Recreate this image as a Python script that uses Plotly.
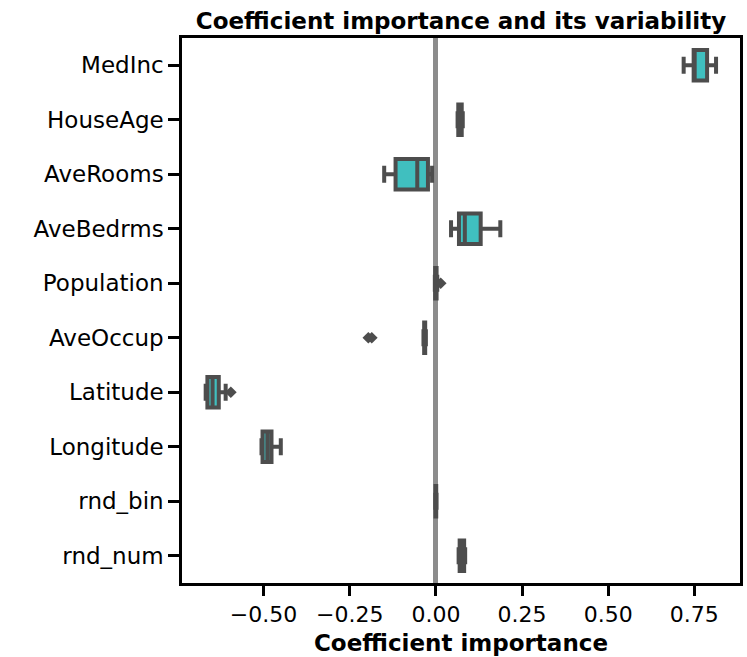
import plotly.graph_objects as go

features = ["MedInc", "HouseAge", "AveRooms", "AveBedrms", "Population",
            "AveOccup", "Latitude", "Longitude", "rnd_bin", "rnd_num"]
lower_fence = [0.719, 0.063, -0.150, 0.044, -0.003, -0.036, -0.668, -0.506, -0.002, 0.066]
q1 =          [0.748, 0.065, -0.117, 0.067, -0.002, -0.034, -0.663, -0.503, -0.001, 0.069]
median =      [0.751, 0.070, -0.054, 0.084, 0.000, -0.033, -0.648, -0.489, 0.000, 0.076]
q3 =          [0.787, 0.075, -0.023, 0.130, 0.002, -0.031, -0.630, -0.477, 0.001, 0.082]
upper_fence = [0.813, 0.078, -0.011, 0.187, 0.004, -0.029, -0.610, -0.450, 0.002, 0.085]

outlier_feature = ["Population", "AveOccup", "AveOccup", "Latitude"]
outlier_value = [0.014, -0.196, -0.186, -0.595]

x_ticks = [-0.50, -0.25, 0.00, 0.25, 0.50, 0.75]

EDGE = "#4d4d4d"
FILL = "#40bfbf"
FONT = "DejaVu Sans"

fig = go.Figure()
fig.add_trace(go.Box(
    y=features, q1=q1, median=median, q3=q3,
    lowerfence=lower_fence, upperfence=upper_fence,
    orientation="h", fillcolor=FILL,
    line=dict(color=EDGE, width=4), whiskerwidth=0.55,
    showlegend=False, hoverinfo="x",
))
fig.add_trace(go.Scatter(
    x=outlier_value, y=outlier_feature, mode="markers",
    marker=dict(symbol="diamond", size=9, color=EDGE),
    showlegend=False,
))

fig.update_layout(
    width=747, height=657,
    margin=dict(l=182, r=7, t=38, b=74, autoexpand=False),
    paper_bgcolor="white", plot_bgcolor="white",
    font=dict(family=FONT, color="black"),
    boxgap=0.2,
    title=dict(text="Coefficient importance and its variability",
               font=dict(size=23, weight="bold", color="black"),
               x=0.5, xref="paper", xanchor="center",
               y=1 - 20.5 / 657, yref="container", yanchor="middle"),
    xaxis=dict(
        range=[-0.7367, 0.8825], tickvals=x_ticks, tickformat=".2f",
        ticks="outside", ticklen=10, tickwidth=2.5, tickcolor="black",
        showline=True, linecolor="black", linewidth=2.5, mirror=True,
        showgrid=False, zeroline=True, zerolinecolor="#8c8c8c", zerolinewidth=4.5,
        tickfont=dict(size=22, family=FONT), automargin=False,
        title=dict(text="Coefficient importance",
                   font=dict(size=23, weight="bold", family=FONT), standoff=9),
    ),
    yaxis=dict(
        type="category", categoryorder="array", categoryarray=features,
        range=[9.5, -0.5], automargin=False,
        ticks="outside", ticklen=11, tickwidth=2.5, tickcolor="black",
        showline=True, linecolor="black", linewidth=2.5, mirror=True,
        showgrid=False, zeroline=False,
        tickfont=dict(size=23, family=FONT), ticklabelstandoff=0,
    ),
)

fig.write_html("out.html", config={"displayModeBar": False},
               post_script="document.body.style.margin='0';")
